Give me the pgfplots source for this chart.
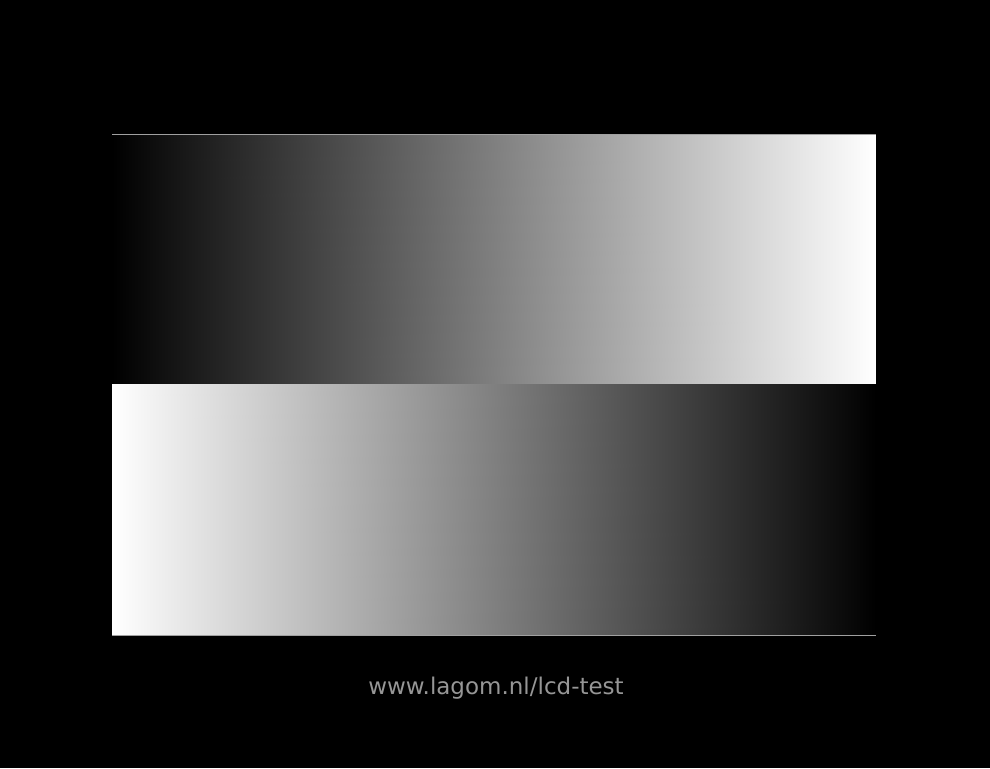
\documentclass[border=0pt]{standalone}
\usepackage{pgfplots}
\pgfplotsset{compat=1.18}
\usepackage{fontspec}
\setmainfont{DejaVu Sans}
\definecolor{edgegray}{RGB}{160,160,160}
\definecolor{txtgray}{RGB}{150,150,150}
\begin{document}
\begin{tikzpicture}[x=1pt,y=1pt]
\fill[black] (0,0) rectangle (990,768);
\useasboundingbox (0,0) rectangle (990,768);
\begin{axis}[
  at={(112pt,133pt)}, anchor=south west,
  scale only axis, width=764pt, height=501pt,
  xmin=0, xmax=1, ymin=0, ymax=2,
  view={0}{90},
  axis x line=box, axis y line=none,
  xtick=\empty, ytick=\empty,
  axis line style={edgegray, line width=0.8pt},
  colormap/blackwhite,
  point meta min=0, point meta max=1,
  axis on top,
]
% top band: black (left) to white (right)
\addplot3[surf, shader=interp, point meta=explicit, mesh/rows=2] table[meta=c] {
x y z c
0 1 0 0
1 1 0 1
0 2 0 0
1 2 0 1
};
% bottom band: white (left) to black (right)
\addplot3[surf, shader=interp, point meta=explicit, mesh/rows=2] table[meta=c] {
x y z c
0 0 0 1
1 0 0 0
0 1 0 1
1 1 0 0
};
\end{axis}
\node[text=txtgray, font=\fontsize{23}{27}\selectfont, anchor=base] at (496,73) {www.lagom.nl/lcd-test};
\end{tikzpicture}
\end{document}
